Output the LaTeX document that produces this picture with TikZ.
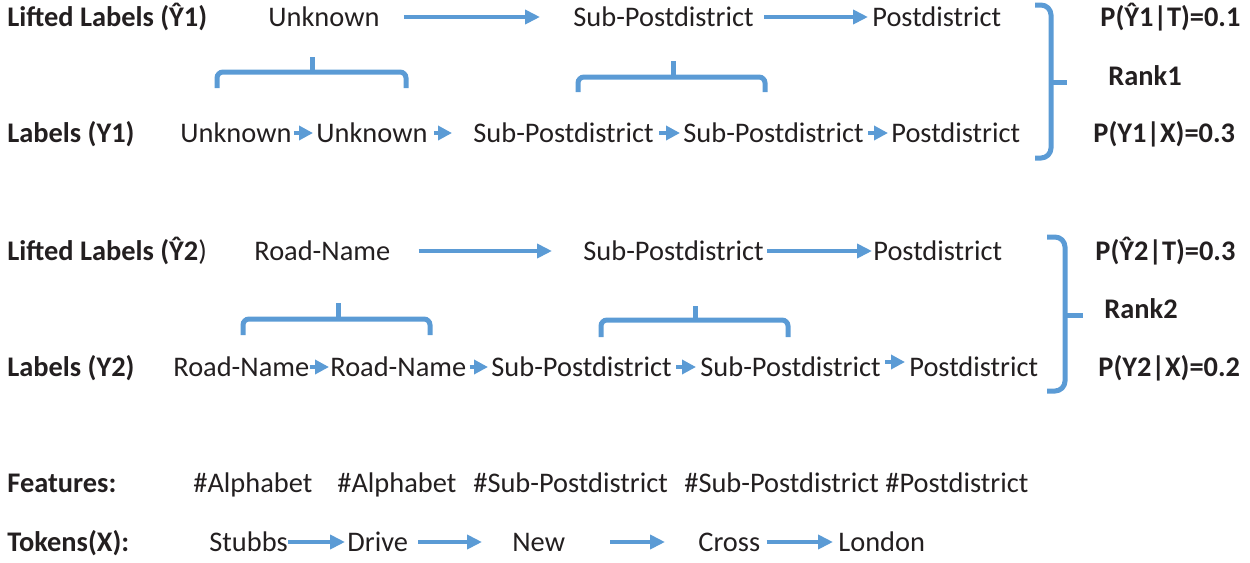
\documentclass[tikz,border=0pt]{standalone}
\usepackage{fontspec}
\setmainfont{Carlito}
\usetikzlibrary{arrows.meta}
\definecolor{ablue}{HTML}{5B9BD5}
\definecolor{ink}{HTML}{231F20}
\tikzset{
  txt/.style={anchor=west,inner sep=0pt,text height=9pt,text depth=0pt,text=ink,font=\fontsize{14.2}{17}\selectfont},
  btxt/.style={txt,font=\fontsize{14.2}{17}\selectfont\bfseries},
  longarr/.style={draw=ablue,line width=2pt,-{Triangle[length=7.5pt,width=7pt]}},
  shortarr/.style={draw=ablue,line width=1.8pt,-{Triangle[length=7pt,width=7pt]}},
  brace/.style={draw=ablue,line width=2.5pt,rounded corners=3pt},
  bigbracket/.style={draw=ablue,line width=2.5pt,rounded corners=5pt}
}
\begin{document}
\begin{tikzpicture}[x=0.5pt,y=-0.5pt]
\useasboundingbox (0,0) rectangle (1250,563);
% Row 1
\node[btxt] (h1) at (7,17) {Lifted Labels (Ŷ1)};
\node[txt] (a1) at (268,17) {Unknown};
\node[txt] (a2) at (573,17) {Sub-Postdistrict};
\node[txt] (a3) at (872,17) {Postdistrict};
\draw[longarr,shorten <=12pt,shorten >=16.5pt] (a1.east) -- (a2.west);
\draw[longarr,shorten <=5pt,shorten >=2pt] (a2.east) -- (a3.west);
% Row 2
\node[btxt] (h2) at (7,133) {Labels (Y1)};
\node[txt] (b1) at (180,133) {Unknown};
\node[txt] (b2) at (316,133) {Unknown};
\node[txt] (b3) at (473,133) {Sub-Postdistrict};
\node[txt] (b4) at (683,133) {Sub-Postdistrict};
\node[txt] (b5) at (891,133) {Postdistrict};
\draw[shortarr,shorten <=1pt,shorten >=1.5pt] (b1.east) -- (b2.west);
\draw[shortarr,shorten <=3pt,shorten >=10.5pt] (b2.east) -- (b3.west);
\draw[shortarr,shorten <=2.5pt,shorten >=1.5pt] (b3.east) -- (b4.west);
\draw[shortarr,shorten <=2pt,shorten >=1.5pt] (b4.east) -- (b5.west);
% braces group 1
\draw[brace] (217,88) |- (312,72) -| (406,88);
\draw[brace,rounded corners=0pt] (312,73) -- (312,57);
\draw[brace] (578,92) |- (673,77) -| (765,92);
\draw[brace,rounded corners=0pt] (673,78) -- (673,61);
% big bracket 1
\draw[bigbracket] (1035,5) -| (1051,158) -- (1035,158);
\draw[draw=ablue,line width=2.5pt] (1051,82) -- (1067,82);
\node[btxt] (p1) at (1100,17) {P(Ŷ1|T)=0.1};
\node[btxt] (r1) at (1108,76) {Rank1};
\node[btxt] (q1) at (1093,133) {P(Y1|X)=0.3};
% Row 3
\node[txt] (h3) at (7,251) {\bfseries Lifted Labels (Ŷ2\mdseries)};
\node[txt] (c1) at (254,251) {Road-Name};
\node[txt] (c2) at (583,251) {Sub-Postdistrict};
\node[txt] (c3) at (873,251) {Postdistrict};
\draw[longarr,shorten <=14pt,shorten >=15.5pt] (c1.east) -- (c2.west);
\draw[longarr,shorten <=1.5pt,shorten >=0.5pt] (c2.east) -- (c3.west);
% Row 4
\node[btxt] (h4) at (7,367) {Labels (Y2)};
\node[txt] (d1) at (173,367) {Road-Name};
\node[txt] (d2) at (330,367) {Road-Name};
\node[txt] (d3) at (491,367) {Sub-Postdistrict};
\node[txt] (d4) at (700,367) {Sub-Postdistrict};
\node[txt] (d5) at (909,367) {Postdistrict};
\draw[shortarr,shorten <=0pt,shorten >=0.5pt] (d1.east) -- (d2.west);
\draw[shortarr,shorten <=1.5pt,shorten >=1.5pt] (d2.east) -- (d3.west);
\draw[shortarr,shorten <=2pt,shorten >=2pt] (d3.east) -- (d4.west);
\draw[shortarr,shorten <=2pt,shorten >=2pt] ([yshift=2.5pt]d4.east) -- ([yshift=2.5pt]d5.west);
% braces group 2
\draw[brace] (243,335) |- (338,319) -| (430,335);
\draw[brace,rounded corners=0pt] (338,320) -- (338,303);
\draw[brace] (601,337) |- (695,320) -| (788,337);
\draw[brace,rounded corners=0pt] (695,321) -- (695,306);
% big bracket 2
\draw[bigbracket] (1047,237) -| (1065,391) -- (1047,391);
\draw[draw=ablue,line width=2.5pt] (1065,315) -- (1083,315);
\node[btxt] (p2) at (1095,251) {P(Ŷ2|T)=0.3};
\node[btxt] (r2) at (1104,309) {Rank2};
\node[btxt] (q2) at (1098,367) {P(Y2|X)=0.2};
% Features
\node[btxt] (hf) at (7,483) {Features:};
\node[txt] (f1) at (193,483) {\#Alphabet};
\node[txt] (f2) at (337,483) {\#Alphabet};
\node[txt] (f3) at (473,483) {\#Sub-Postdistrict};
\node[txt] (f4) at (684,483) {\#Sub-Postdistrict};
\node[txt] (f5) at (885,483) {\#Postdistrict};
% Tokens
\node[btxt] (ht) at (7,542) {Tokens(X):};
\node[txt] (t1) at (209,542) {Stubbs};
\node[txt] (t2) at (347,542) {Drive};
\node[txt] (t3) at (512,542) {New};
\node[txt] (t4) at (698,542) {Cross};
\node[txt] (t5) at (838,542) {London};
\draw[longarr,shorten <=0pt,shorten >=1pt] (t1.east) -- (t2.west);
\draw[longarr,shorten <=5pt,shorten >=15pt] (t2.east) -- (t3.west);
\draw[longarr,shorten <=22.5pt,shorten >=16.5pt] (t3.east) -- (t4.west);
\draw[longarr,shorten <=3pt,shorten >=2.5pt] (t4.east) -- (t5.west);
\end{tikzpicture}
\end{document}
